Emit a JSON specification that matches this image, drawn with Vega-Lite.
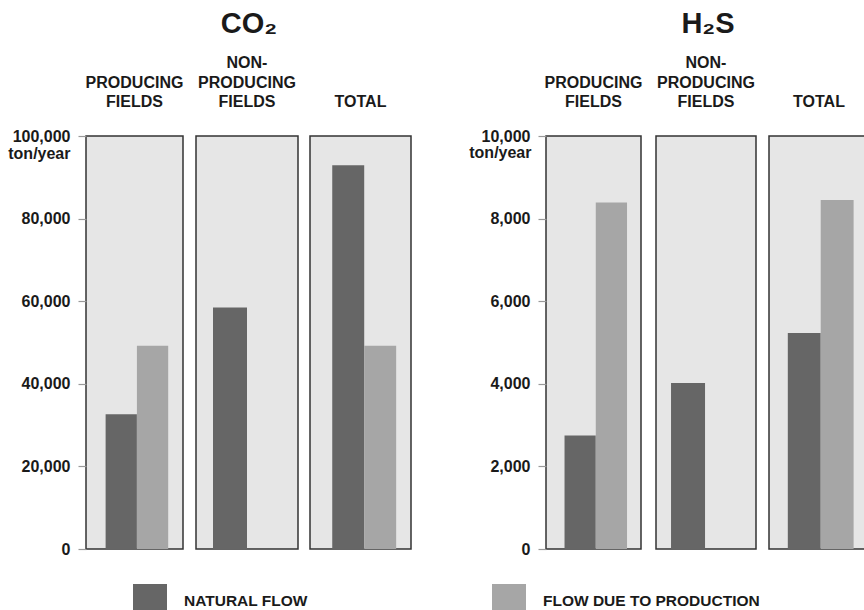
{
  "$schema": "https://vega.github.io/schema/vega-lite/v6.json",
  "padding": {"left": 7, "top": 9, "right": 0, "bottom": 0},
  "background": "white",
  "data": {
    "values": [
      {"gas": "CO2", "field": "PRODUCING", "flow": "NATURAL FLOW", "value": 32600},
      {"gas": "CO2", "field": "PRODUCING", "flow": "FLOW DUE TO PRODUCTION", "value": 49200},
      {"gas": "CO2", "field": "NON-PRODUCING", "flow": "NATURAL FLOW", "value": 58500},
      {"gas": "CO2", "field": "TOTAL", "flow": "NATURAL FLOW", "value": 92900},
      {"gas": "CO2", "field": "TOTAL", "flow": "FLOW DUE TO PRODUCTION", "value": 49200},
      {"gas": "H2S", "field": "PRODUCING", "flow": "NATURAL FLOW", "value": 2750},
      {"gas": "H2S", "field": "PRODUCING", "flow": "FLOW DUE TO PRODUCTION", "value": 8390},
      {"gas": "H2S", "field": "NON-PRODUCING", "flow": "NATURAL FLOW", "value": 4020},
      {"gas": "H2S", "field": "TOTAL", "flow": "NATURAL FLOW", "value": 5230},
      {"gas": "H2S", "field": "TOTAL", "flow": "FLOW DUE TO PRODUCTION", "value": 8450}
    ]
  },
  "spacing": 56,
  "hconcat": [
    {
      "title": {"text": "CO₂", "fontSize": 29, "offset": 16, "frame": "group", "anchor": "middle", "dx": 163},
      "spacing": 10,
      "hconcat": [
        {
          "width": 97, "height": 413,
          "title": {"text": ["\u00a0", "PRODUCING", "FIELDS"], "offset": 18},
          "transform": [{"filter": "datum.gas == 'CO2' && datum.field == 'PRODUCING'"}],
          "mark": {"type": "bar"},
          "encoding": {
            "x": {"field": "flow", "type": "nominal", "axis": null, "scale": {"domain": ["NATURAL FLOW", "FLOW DUE TO PRODUCTION"], "paddingInner": 0, "paddingOuter": 0.55, "align": 0.57}},
            "y": {"field": "value", "type": "quantitative", "scale": {"domain": [0, 100000], "nice": false},
              "axis": {"values": [0, 20000, 40000, 60000, 80000, 100000], "format": ",d", "title": "ton/year", "titleAngle": 0, "titleX": -16, "titleY": 17, "titleAlign": "right", "titleBaseline": "middle"}},
            "color": {"field": "flow", "type": "nominal", "scale": {"domain": ["NATURAL FLOW", "FLOW DUE TO PRODUCTION"], "range": ["#666666", "#a6a6a6"]},
              "legend": {"title": null, "orient": "none", "legendX": 47, "legendY": 448, "direction": "horizontal", "columnPadding": 184}}
          }
        },
        {
          "width": 102, "height": 413,
          "title": {"text": ["NON-", "PRODUCING", "FIELDS"]},
          "transform": [{"filter": "datum.gas == 'CO2' && datum.field == 'NON-PRODUCING'"}],
          "mark": {"type": "bar"},
          "encoding": {
            "x": {"field": "flow", "type": "nominal", "axis": null, "scale": {"domain": ["NATURAL FLOW", "FLOW DUE TO PRODUCTION"], "paddingInner": 0, "paddingOuter": 0.5, "align": 0.5}},
            "y": {"field": "value", "type": "quantitative", "scale": {"domain": [0, 100000], "nice": false}, "axis": null},
            "color": {"field": "flow", "type": "nominal"}
          }
        },
        {
          "width": 101, "height": 413,
          "title": {"text": ["\u00a0", "\u00a0", "TOTAL"], "offset": 7},
          "transform": [{"filter": "datum.gas == 'CO2' && datum.field == 'TOTAL'"}],
          "mark": {"type": "bar"},
          "encoding": {
            "x": {"field": "flow", "type": "nominal", "axis": null, "scale": {"domain": ["NATURAL FLOW", "FLOW DUE TO PRODUCTION"], "paddingInner": 0, "paddingOuter": 0.58, "align": 0.6}},
            "y": {"field": "value", "type": "quantitative", "scale": {"domain": [0, 100000], "nice": false}, "axis": null},
            "color": {"field": "flow", "type": "nominal"}
          }
        }
      ]
    },
    {
      "title": {"text": "H₂S", "fontSize": 29, "offset": 16, "frame": "group", "anchor": "middle", "dx": 162},
      "spacing": 11,
      "hconcat": [
        {
          "width": 95, "height": 413,
          "title": {"text": ["\u00a0", "PRODUCING", "FIELDS"], "offset": 18},
          "transform": [{"filter": "datum.gas == 'H2S' && datum.field == 'PRODUCING'"}],
          "mark": {"type": "bar"},
          "encoding": {
            "x": {"field": "flow", "type": "nominal", "axis": null, "scale": {"domain": ["NATURAL FLOW", "FLOW DUE TO PRODUCTION"], "paddingInner": 0, "paddingOuter": 0.52, "align": 0.57}},
            "y": {"field": "value", "type": "quantitative", "scale": {"domain": [0, 10000], "nice": false},
              "axis": {"values": [0, 2000, 4000, 6000, 8000, 10000], "format": ",d", "title": "ton/year", "titleAngle": 0, "titleX": -15, "titleY": 16, "titleAlign": "right", "titleBaseline": "middle"}},
            "color": {"field": "flow", "type": "nominal"}
          }
        },
        {
          "width": 100, "height": 413,
          "title": {"text": ["NON-", "PRODUCING", "FIELDS"]},
          "transform": [{"filter": "datum.gas == 'H2S' && datum.field == 'NON-PRODUCING'"}],
          "mark": {"type": "bar"},
          "encoding": {
            "x": {"field": "flow", "type": "nominal", "axis": null, "scale": {"domain": ["NATURAL FLOW", "FLOW DUE TO PRODUCTION"], "paddingInner": 0, "paddingOuter": 0.47, "align": 0.47}},
            "y": {"field": "value", "type": "quantitative", "scale": {"domain": [0, 10000], "nice": false}, "axis": null},
            "color": {"field": "flow", "type": "nominal"}
          }
        },
        {
          "width": 100, "height": 413,
          "title": {"text": ["\u00a0", "\u00a0", "TOTAL"], "offset": 7},
          "transform": [{"filter": "datum.gas == 'H2S' && datum.field == 'TOTAL'"}],
          "mark": {"type": "bar"},
          "encoding": {
            "x": {"field": "flow", "type": "nominal", "axis": null, "scale": {"domain": ["NATURAL FLOW", "FLOW DUE TO PRODUCTION"], "paddingInner": 0, "paddingOuter": 0.52, "align": 0.55}},
            "y": {"field": "value", "type": "quantitative", "scale": {"domain": [0, 10000], "nice": false}, "axis": null},
            "color": {"field": "flow", "type": "nominal"}
          }
        }
      ]
    }
  ],
  "config": {
    "font": "Liberation Sans",
    "view": {"fill": "#e6e6e6", "stroke": "#333333", "strokeWidth": 1.5},
    "title": {"font": "Liberation Sans", "fontWeight": "bold", "fontSize": 16, "lineHeight": 19.3, "color": "#1a1a1a", "offset": 26, "anchor": "middle"},
    "axis": {
      "domain": false, "grid": false, "tickColor": "#999999", "tickWidth": 1.2, "tickSize": 8,
      "labelPadding": 8, "labelFont": "Liberation Sans", "labelFontWeight": "bold", "labelFontSize": 16, "labelColor": "#1a1a1a",
      "labelFlush": false, "labelOverlap": false,
      "titleFont": "Liberation Sans", "titleFontWeight": "bold", "titleFontSize": 16, "titleColor": "#1a1a1a", "titlePadding": 0
    },
    "legend": {
      "symbolType": "square", "symbolSize": 1156, "symbolStrokeWidth": 0, "symbolOpacity": 1,
      "labelFont": "Liberation Sans", "labelFontWeight": "bold", "labelFontSize": 15.5, "labelColor": "#1a1a1a",
      "labelOffset": 17, "padding": 0, "labelLimit": 400
    },
    "bar": {"stroke": null}
  }
}
